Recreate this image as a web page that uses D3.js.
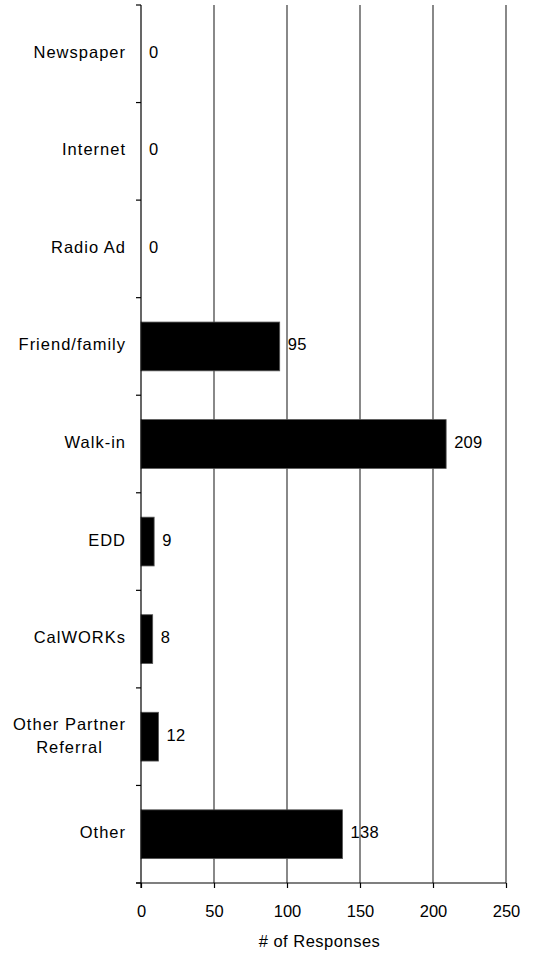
<!DOCTYPE html>
<html>
<head>
<meta charset="utf-8">
<script src="https://cdn.jsdelivr.net/npm/d3@7"></script>
<style>
  html, body { margin: 0; padding: 0; background: #fff; }
  svg { display: block; }
  text { font-family: "Liberation Sans", Arial, sans-serif; fill: #000; }
</style>
</head>
<body>
<svg id="chart" width="537" height="954"></svg>
<script>
// How respondents heard about the program
const categories = ["Newspaper", "Internet", "Radio Ad", "Friend/family", "Walk-in", "EDD", "CalWORKs", "Other Partner\nReferral", "Other"];
const responses = [0, 0, 0, 95, 209, 9, 8, 12, 138];
const xTicks = [0, 50, 100, 150, 200, 250];
const xTitle = "# of Responses";

const svg = d3.select("#chart");
const plotLeft = 141, plotRight = 506, plotTop = 5, plotBottom = 883;

const x = d3.scaleLinear().domain([0, 250]).range([plotLeft, plotRight]);
const y = d3.scaleBand().domain(categories).range([plotTop, plotBottom]).paddingInner(0.5).paddingOuter(0.25);

// vertical gridlines
svg.append("g").selectAll("line").data(xTicks.slice(1)).join("line")
  .attr("x1", d => x(d)).attr("x2", d => x(d))
  .attr("y1", plotTop).attr("y2", plotBottom)
  .attr("stroke", "#3a3a3a").attr("stroke-width", 1.2);

// bars
svg.append("g").selectAll("rect").data(categories).join("rect")
  .attr("x", x(0))
  .attr("y", d => y(d))
  .attr("width", (d, i) => x(responses[i]) - x(0))
  .attr("height", y.bandwidth())
  .attr("fill", "#000")
  .attr("stroke", "#555").attr("stroke-width", 0.8);

// value labels
svg.append("g").selectAll("text").data(categories).join("text")
  .attr("x", (d, i) => x(responses[i]) + 8)
  .attr("y", d => y(d) + y.bandwidth() / 2 + 4)
  .attr("font-size", 16.5)
  .style("letter-spacing", "0.3px")
  .text((d, i) => responses[i]);

// category axis: line plus ticks at band boundaries
const step = (plotBottom - plotTop) / categories.length;
const boundaries = d3.range(categories.length + 1).map(i => plotTop + i * step);
svg.append("line").attr("x1", plotLeft).attr("x2", plotLeft).attr("y1", plotTop).attr("y2", plotBottom + 5)
  .attr("stroke", "#000").attr("stroke-width", 1.2);
svg.append("g").selectAll("line").data(boundaries).join("line")
  .attr("x1", plotLeft - 5).attr("x2", plotLeft)
  .attr("y1", d => d).attr("y2", d => d)
  .attr("stroke", "#000").attr("stroke-width", 1.2);

// category labels (multi-line labels are centred on their widest line)
const catG = svg.append("g");
categories.forEach(c => {
  const lines = c.split("\n");
  const cy = y(c) + y.bandwidth() / 2;
  const t = catG.append("text").attr("font-size", 16.5).style("letter-spacing", "1px");
  if (lines.length === 1) {
    t.attr("x", plotLeft - 15).attr("y", cy + 4).attr("text-anchor", "end").text(c);
  } else {
    const lh = 23;
    lines.forEach((ln, k) => {
      t.append("tspan").attr("y", cy + 5 + (k - (lines.length - 1) / 2) * lh).text(ln);
    });
    const widths = [];
    t.selectAll("tspan").each(function () { widths.push(this.getComputedTextLength()); });
    const w = d3.max(widths);
    t.attr("text-anchor", "middle");
    t.selectAll("tspan").attr("x", plotLeft - 15 - w / 2);
  }
});

// value axis
const xAxis = d3.axisBottom(x).tickValues(xTicks).tickSize(5).tickPadding(17).tickSizeOuter(0);
const gx = svg.append("g").attr("transform", `translate(0,${plotBottom})`).call(xAxis);
gx.select(".domain").remove();
gx.selectAll(".tick line").attr("stroke", "#000").attr("stroke-width", 1.2);
gx.selectAll(".tick text").attr("font-size", 16.5).attr("font-family", "Liberation Sans, Arial, sans-serif").attr("fill", "#000");
svg.append("line").attr("x1", plotLeft - 5).attr("x2", plotRight).attr("y1", plotBottom).attr("y2", plotBottom)
  .attr("stroke", "#000").attr("stroke-width", 1.2);

svg.append("text")
  .attr("x", (plotLeft + plotRight) / 2 - 4).attr("y", 947)
  .attr("text-anchor", "middle").attr("font-size", 16.5)
  .style("letter-spacing", "0.5px")
  .text(xTitle);
</script>
</body>
</html>
